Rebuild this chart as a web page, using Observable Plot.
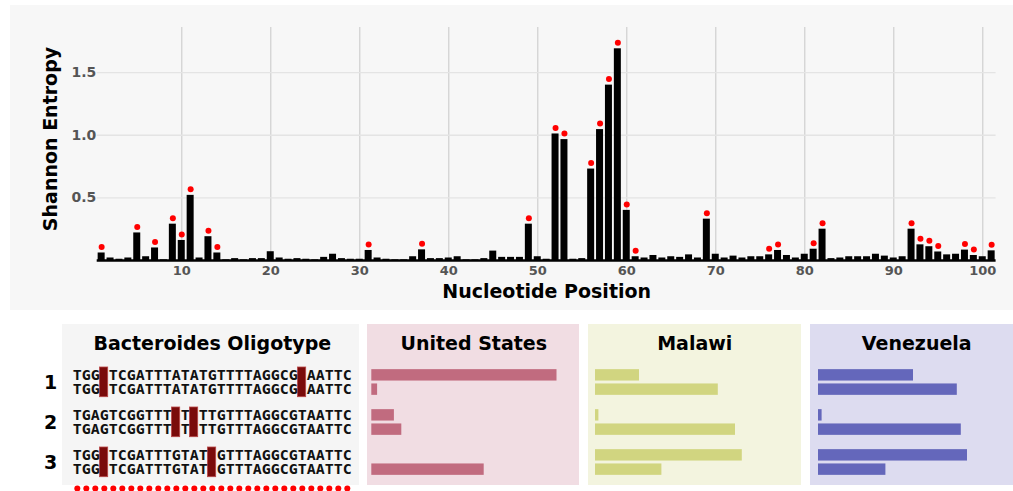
<!DOCTYPE html>
<html><head><meta charset="utf-8">
<script src="https://cdn.jsdelivr.net/npm/d3@7"></script>
<script src="https://cdn.jsdelivr.net/npm/@observablehq/plot@0.6"></script>
<style>
body{margin:0;background:#fff;}
#root{position:relative;width:1013px;height:491px;overflow:hidden;font-family:"DejaVu Sans",sans-serif;}
.part{position:absolute;}
.part svg{overflow:visible;max-width:none !important;}
</style></head><body><div id="root"></div>
<script>
// ---------- data ----------
const entropy = [
 0.06,0.02,0.01,0.02,0.22,0.03,0.10,0.005,0.29,0.16,
 0.52,0.02,0.19,0.06,0.005,0.015,0.005,0.015,0.015,0.07,
 0.02,0.01,0.015,0.01,0.005,0.025,0.05,0.015,0.01,0.01,
 0.08,0.02,0.01,0.005,0.005,0.03,0.085,0.015,0.015,0.02,
 0.03,0.005,0.005,0.015,0.075,0.025,0.025,0.025,0.29,0.03,
 0.01,1.01,0.965,0.01,0.015,0.73,1.045,1.40,1.69,0.40,
 0.03,0.02,0.04,0.02,0.03,0.025,0.045,0.02,0.33,0.05,
 0.02,0.035,0.02,0.03,0.03,0.045,0.08,0.04,0.02,0.05,
 0.09,0.25,0.015,0.02,0.03,0.03,0.03,0.05,0.035,0.02,
 0.03,0.25,0.125,0.11,0.068,0.045,0.05,0.083,0.04,0.03,
 0.077];
const selectedPositions = [1,5,7,9,10,11,13,14,31,37,49,52,53,56,57,58,59,60,61,69,76,77,81,82,92,93,94,95,98,99,101];
const xTicks = [10,20,30,40,50,60,70,80,90,100];
const yTicks = [0.5,1.0,1.5];
const xTitle = "Nucleotide Position";
const yTitle = "Shannon Entropy";

const oligotypes = ["1","2","3"];
// "_" marks the highlighted (variable) positions
const seqLineA = [
 "TGG_TCGATTTATATGTTTTAGGCG_AATTC",
 "TGAGTCGGTTT_T_TTGTTTAGGCGTAATTC",
 "TGG_TCGATTTGTAT_GTTTAGGCGTAATTC"];
const seqLineB = [
 "TGG_TCGATTTATATGTTTTAGGCG_AATTC",
 "TGAGTCGGTTT_T_TTGTTTAGGCGTAATTC",
 "TGG_TCGATTTGTAT_GTTTAGGCGTAATTC"];
const oligoTitle = "Bacteroides Oligotype";

const countries = ["United States","Malawi","Venezuela"];
// relative abundance, order: 1a,1b,2a,2b,3a,3b
const usValues = [92.6, 2.9, 11.3, 15.0, 0, 56.2];
const malawiValues = [22.0, 61.4, 1.7, 70.0, 73.4, 33.2];
const venezuelaValues = [47.5, 69.4, 1.8, 71.4, 74.5, 33.7];
const countryBar = ["#c16b7f","#d1d580","#6467bb"];
const countryBg = ["#f1dde3","#f3f4df","#dddcf0"];

// ---------- build ----------
const root = document.getElementById("root");
function place(node, left, topPx, w, h, bg){
  const d = document.createElement("div");
  d.className = "part";
  d.style.left = left + "px"; d.style.top = topPx + "px";
  d.style.width = w + "px"; d.style.height = h + "px";
  if (bg) d.style.background = bg;
  if (node) d.appendChild(node);
  root.appendChild(d);
  return d;
}
const FONT = "DejaVu Sans, sans-serif";

const entData = entropy.map((h, i) => ({pos: i + 1, h}));
const selData = entData.filter(d => selectedPositions.includes(d.pos));

const entropyPlot = Plot.plot({
  width: 1003, height: 305,
  marginLeft: 86.7, marginRight: 17.4, marginTop: 22, marginBottom: 50,
  style: {background: "#f7f7f7", fontFamily: FONT, color: "#555"},
  x: {domain: [0.5, 101.5], label: null},
  y: {domain: [0, 1.86], label: null},
  marks: [
    Plot.gridX(xTicks, {stroke: "#d2d2d2", strokeOpacity: 1, strokeWidth: 1.3}),
    Plot.gridY(yTicks, {stroke: "#e4e4e4", strokeOpacity: 1, strokeWidth: 1.3}),
    Plot.rectY(entData, {x1: d => d.pos - 0.5, x2: d => d.pos + 0.5, y: "h", fill: "black", insetLeft: 0.95, insetRight: 0.95}),
    Plot.ruleY([0], {stroke: "black", strokeWidth: 2.5}),
    Plot.dot(selData, {x: "pos", y: "h", dy: -6, r: 3, fill: "#ff0000"}),
    Plot.axisX(xTicks, {tickSize: 0, tickPadding: 5, fontSize: 13, fontWeight: "bold", fill: "#555", label: null}),
    Plot.axisY(yTicks, {tickSize: 0, tickPadding: 1, tickFormat: ".1f", fontSize: 14, fontWeight: "bold", fill: "#555", label: null}),
    Plot.text([xTitle], {text: d => d, frameAnchor: "bottom", lineAnchor: "middle", textAnchor: "middle", dy: 31, fontSize: 19, fontWeight: "bold", fill: "black"}),
    Plot.text([yTitle], {text: d => d, frameAnchor: "left", textAnchor: "middle", lineAnchor: "middle", rotate: -90, dx: -46.7, dy: -5, fontSize: 19, fontWeight: "bold", fill: "black"})
  ]
});
place(entropyPlot, 10, 5, 1003, 305);

// oligotype panel: each run of letters between highlighted positions is one
// two-line text (line A above line B), placed at its first position
const segments = [];
const boxes = [];
seqLineA.forEach((s, k) => {
  let start = null;
  for (let i = 0; i <= s.length; i++) {
    const c = s[i];
    if (c === undefined || c === "_") {
      if (start !== null) segments.push({type: oligotypes[k], pos: start + 1, txt: s.slice(start, i) + "\n" + seqLineB[k].slice(start, i)});
      start = null;
      if (c === "_") boxes.push({type: oligotypes[k], pos: i + 1});
    } else if (start === null) start = i;
  }
});
const dotRow = selectedPositions.map((p, i) => i + 1);

place(null, 61.7, 324, 297.3, 161, "#f5f5f5");
const yBand = {type: "band", domain: oligotypes, range: [38.2, 158.3], padding: 0};
const oligo = Plot.plot({
  width: 322, height: 167,
  marginLeft: 32.3, marginRight: 10.7, marginTop: 25, marginBottom: 3,
  style: {background: "transparent", fontFamily: FONT, color: "black"},
  x: {domain: [0.5, 31.5], range: [32.3, 311.3], axis: null},
  y: {...yBand, axis: null},
  marks: [
    Plot.barX(boxes, {x1: d => d.pos - 0.5, x2: d => d.pos + 0.5, y: "type", insetTop: 5, insetBottom: 5.3, insetLeft: 0.2, insetRight: 0.6, fill: "#7a0b0b", stroke: "#b94848", strokeWidth: 0.8}),
    Plot.text(segments, {x: d => d.pos - 0.5, y: "type", text: "txt", textAnchor: "start", lineAnchor: "middle", lineHeight: 0.955, fontFamily: "DejaVu Sans Mono, monospace", fontWeight: "bold", fontSize: 14.95, fill: "#111"}),
    Plot.text(oligotypes, {y: d => d, text: d => d, frameAnchor: "left", textAnchor: "middle", dx: -22.3, fontSize: 19, fontWeight: "bold", fill: "black"}),
    Plot.dot(dotRow, {x: d => d, frameAnchor: "bottom", r: 3, fill: "#ff0000"}),
    Plot.text([oligoTitle], {text: d => d, frameAnchor: "top", lineAnchor: "bottom", fontSize: 19, fontWeight: "bold", fill: "black"})
  ]
});
place(oligo, 40, 324, 322, 167);

// country panels
const countryValues = [usValues, malawiValues, venezuelaValues];
const panelLeft = [366.7, 588.3, 810];
const barStart = [4.3, 7, 8];
countries.forEach((name, ci) => {
  const rows = countryValues[ci].map((v, j) => ({type: oligotypes[Math.floor(j / 2)], line: j % 2, v}));
  const p = Plot.plot({
    width: 212.5, height: 161,
    marginLeft: 0, marginRight: 0, marginTop: 25, marginBottom: 0,
    style: {background: countryBg[ci], fontFamily: FONT, color: "black"},
    x: {domain: [0, 100], range: [barStart[ci], barStart[ci] + 200], axis: null},
    y: {...yBand, axis: null},
    marks: [
      Plot.barX(rows.filter(d => d.line === 0), {x: "v", y: "type", insetTop: 7.15, insetBottom: 21.45, fill: countryBar[ci]}),
      Plot.barX(rows.filter(d => d.line === 1), {x: "v", y: "type", insetTop: 21.45, insetBottom: 7.15, fill: countryBar[ci]}),
      Plot.text([name], {text: d => d, frameAnchor: "top", lineAnchor: "bottom", fontSize: 19, fontWeight: "bold", fill: "black"})
    ]
  });
  place(p, panelLeft[ci], 324, 212.5, 161);
});
</script></body></html>
